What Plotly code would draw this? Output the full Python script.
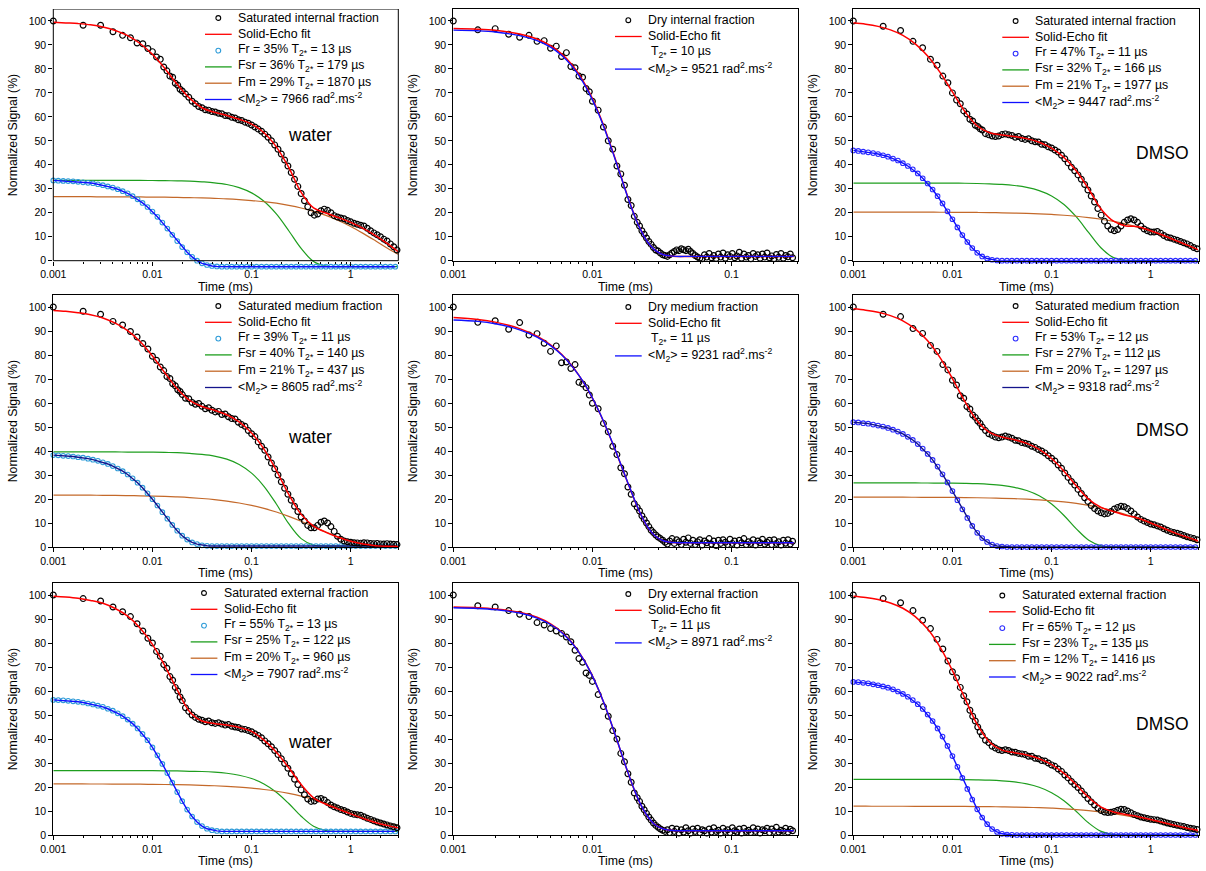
import plotly.graph_objects as go

W, H = 1206, 871

# ---------------- time grids (ms) ----------------
T_FR = [0.001, 0.001122, 0.001259, 0.001413, 0.001585, 0.001778, 0.001995, 0.002239, 0.002512, 0.002818,
        0.003162, 0.003548, 0.003981, 0.004467, 0.005012, 0.005623, 0.00631, 0.007079, 0.007943, 0.008913,
        0.01, 0.01122, 0.01259, 0.01413, 0.01585, 0.01778, 0.01995, 0.02239, 0.02512, 0.02818,
        0.03162, 0.03548, 0.03981, 0.04467, 0.05012, 0.05623, 0.0631, 0.07079, 0.07943, 0.08913,
        0.1, 0.1122, 0.1259, 0.1413, 0.1585, 0.1778, 0.1995, 0.2239, 0.2512, 0.2818,
        0.3162, 0.3548, 0.3981, 0.4467, 0.5012, 0.5623, 0.631, 0.7079, 0.7943, 0.8913,
        1.0, 1.122, 1.259, 1.413, 1.585, 1.778, 1.995, 2.239, 2.512, 2.818]

T_FIT = [0.001, 0.001334, 0.001778, 0.002371, 0.003162, 0.004217, 0.005623, 0.007499, 0.01, 0.01334,
         0.01778, 0.02371, 0.03162, 0.04217, 0.05623, 0.07499, 0.1, 0.1334, 0.1778, 0.2371,
         0.3162, 0.4217, 0.5623, 0.7499, 1.0, 1.334, 1.778, 2.371, 3.0]

T_DATA = [0.001, 0.002, 0.003, 0.004, 0.005, 0.006, 0.007, 0.008, 0.009, 0.01,
          0.011, 0.012, 0.013, 0.014, 0.015, 0.016, 0.017, 0.018, 0.019, 0.02,
          0.02154, 0.02326, 0.02512, 0.02712, 0.02929, 0.03162, 0.03415, 0.03687, 0.03981, 0.04299,
          0.04642, 0.05012, 0.05412, 0.05843, 0.0631, 0.06813, 0.07356, 0.07943, 0.08577, 0.09261,
          0.1, 0.108, 0.1166, 0.1259, 0.1359, 0.1468, 0.1585, 0.1711, 0.1848, 0.1995,
          0.2154, 0.2326, 0.2512, 0.2712, 0.2929, 0.3162, 0.3415, 0.3687, 0.3981, 0.4299,
          0.4642, 0.5012, 0.5412, 0.5843, 0.631, 0.6813, 0.7356, 0.7943, 0.8577, 0.9261,
          1.0, 1.08, 1.166, 1.259, 1.359, 1.468, 1.585, 1.711, 1.848, 1.995,
          2.154, 2.326, 2.512, 2.712, 2.929]

T_FIT_DRY = [0.001, 0.0015, 0.002, 0.003, 0.004, 0.005, 0.006, 0.007, 0.008, 0.009,
             0.01, 0.011, 0.012, 0.013, 0.014, 0.015, 0.016, 0.018, 0.02, 0.022,
             0.025, 0.028, 0.032, 0.036, 0.04, 0.05, 0.07, 0.1, 0.15, 0.2, 0.28]

T_DATA_DRY = [0.001, 0.0015, 0.002, 0.0025, 0.003, 0.0035, 0.004, 0.0045, 0.005, 0.0055,
              0.006, 0.0065, 0.007, 0.0075, 0.008, 0.0085, 0.009, 0.0095, 0.01,
              0.011, 0.012, 0.013, 0.014, 0.015, 0.016, 0.017, 0.018, 0.019, 0.02,
              0.021, 0.02182, 0.02268, 0.02356, 0.02448, 0.02544, 0.02644, 0.02747, 0.02855, 0.02966,
              0.03082, 0.03203, 0.03328, 0.03458, 0.03594, 0.03734, 0.0388, 0.04032, 0.0419, 0.04354,
              0.04524, 0.04701, 0.04885, 0.05076, 0.05275, 0.05481, 0.05696, 0.05919, 0.0615, 0.06391,
              0.06641, 0.06901, 0.07171, 0.07452, 0.07743, 0.08046, 0.08361, 0.08688, 0.09028, 0.09382,
              0.09749, 0.1013, 0.1053, 0.1094, 0.1137, 0.1181, 0.1227, 0.1275, 0.1325, 0.1377,
              0.1431, 0.1487, 0.1545, 0.1605, 0.1668, 0.1733, 0.1801, 0.1872, 0.1945, 0.2021,
              0.21, 0.2182, 0.2268, 0.2356, 0.2448, 0.2544, 0.2644, 0.2747]

# ---------------- Saturated internal, water (A) ----------------
A_DATA = [100, 98.2, 98.2, 95.5, 94.0, 93.0, 90.8, 90.5, 88.5, 87.2, 85.0, 84.0, 80.8, 79.2, 77.0, 76.5, 74.0, 73.2, 71.5, 70.8,
          69.5, 68.2, 66.5, 65.5, 64.3, 63.8, 63.0, 62.8, 62.2, 62.0, 61.5, 61.3, 60.6, 60.5, 59.8, 59.5, 58.8, 58.5, 57.8, 57.3,
          56.6, 55.8, 54.9, 54.0, 52.8, 51.5, 50.0, 48.3, 46.5, 44.5, 42.0, 39.5, 36.8, 34.0, 31.0, 28.0, 25.0, 22.5, 20.0, 19.0,
          19.5, 20.8, 21.5, 21.0, 20.0, 18.8, 18.2, 17.8, 17.5, 16.8, 16.2, 15.6, 15.2, 14.8, 14.5, 13.5, 12.5, 11.6, 10.8, 10.0,
          9.0, 8.2, 7.0, 5.8, 4.5]
A_FIT = [99.5, 99.2, 98.9, 98.4, 97.5, 96.0, 93.9, 90.6, 86.1, 80.2, 73.6, 67.8, 63.8, 61.9, 60.6, 59.0, 57.0, 53.4, 47.5, 38.9,
         28.5, 22.0, 19.9, 18.0, 16.0, 13.5, 10.5, 7.0, 3.8]
A_FR = [33.5, 33.4, 33.3, 33.2, 33.1, 32.9, 32.7, 32.5, 32.3, 31.9, 31.5, 31.0, 30.5, 29.8, 29.0, 28.1, 26.9, 25.6, 24.1, 22.4,
        20.5, 18.3, 15.9, 13.4, 10.8, 8.2, 5.7, 3.5, 1.6, 0.0, -1.1, -1.8, -2.2, -2.4, -2.5, -2.5, -2.5, -2.5, -2.5, -2.5,
        -2.5, -2.5, -2.5, -2.5, -2.5, -2.5, -2.5, -2.5, -2.5, -2.5, -2.5, -2.5, -2.5, -2.5, -2.5, -2.5, -2.5, -2.5, -2.5, -2.5,
        -2.5, -2.5, -2.5, -2.5, -2.5, -2.5, -2.5, -2.5, -2.5, -2.5]
A_FSR = [33.5, 33.5, 33.5, 33.5, 33.5, 33.5, 33.5, 33.5, 33.45, 33.4, 33.3, 33.2, 32.9, 32.5, 31.8, 30.5, 28.3, 24.8, 19.5, 12.5,
         5.1, -0.3, -2.2, -2.5, -2.5, -2.5, -2.5, -2.5, -2.5]
A_FM = [26.7, 26.7, 26.7, 26.7, 26.6, 26.6, 26.6, 26.6, 26.5, 26.5, 26.4, 26.3, 26.2, 26.0, 25.8, 25.5, 25.1, 24.6, 24.0, 23.1,
        22.0, 20.6, 18.9, 16.8, 14.3, 11.4, 8.3, 5.1, 2.7]

# ---------------- Saturated medium, water (B) ----------------
B_DATA = [100, 98.2, 97.0, 94.0, 92.5, 89.8, 87.5, 84.8, 82.5, 79.5, 77.8, 75.0, 73.5, 71.0, 70.2, 68.0, 67.2, 65.5, 64.8, 63.5,
          62.0, 61.8, 60.2, 59.5, 59.8, 58.6, 57.6, 58.0, 57.0, 56.3, 56.5, 55.2, 55.4, 54.3, 53.5, 53.3, 52.0, 51.0, 50.3, 48.5,
          47.2, 46.0, 43.8, 42.0, 40.3, 37.5, 35.0, 32.6, 30.0, 27.2, 24.5, 22.0, 19.5, 17.0, 14.8, 12.5, 10.8, 9.0, 8.0, 8.0,
          9.0, 10.3, 10.8, 10.0, 8.5, 6.5, 4.5, 3.2, 2.5, 2.2, 2.0, 1.8, 1.7, 1.6, 1.8, 1.7, 1.5, 1.4, 1.5, 1.3,
          1.2, 1.4, 1.2, 1.1, 1.0]
B_FIT = [98.55, 98.19, 97.61, 96.78, 95.45, 93.25, 90.18, 85.64, 79.62, 72.63, 65.93, 61.12, 58.52, 57.0, 55.09, 52.1, 47.51,
         40.79, 31.88, 21.92, 13.59, 8.74, 6.09, 4.03, 2.36, 1.21, 0.56, 0.29, 0.22]
B_FR = [38.3, 38.2, 38.0, 37.9, 37.7, 37.4, 37.2, 36.8, 36.4, 35.9, 35.3, 34.6, 33.7, 32.7, 31.6, 30.2, 28.6, 26.8, 24.7, 22.4,
        19.9, 17.3, 14.5, 11.8, 9.2, 6.8, 4.7, 3.1, 1.9, 1.2, 0.7, 0.5, 0.4, 0.4, 0.4, 0.4, 0.4, 0.4, 0.4, 0.4,
        0.4, 0.4, 0.4, 0.4, 0.4, 0.4, 0.4, 0.4, 0.4, 0.4, 0.4, 0.4, 0.4, 0.4, 0.4, 0.4, 0.4, 0.4, 0.4, 0.4,
        0.4, 0.4, 0.4, 0.4, 0.4, 0.4, 0.4, 0.4, 0.4, 0.4]
B_FSR = [39.6, 39.6, 39.6, 39.6, 39.6, 39.6, 39.55, 39.55, 39.5, 39.4, 39.3, 39.0, 38.6, 37.9, 36.6, 34.4, 30.8, 25.3, 17.9, 9.7,
         3.5, 0.8, 0.4, 0.4, 0.4, 0.4, 0.4, 0.4, 0.4]
B_FM = [21.65, 21.64, 21.61, 21.58, 21.55, 21.5, 21.43, 21.34, 21.22, 21.06, 20.85, 20.58, 20.21, 19.74, 19.13, 18.34, 17.34,
        16.1, 14.58, 12.78, 10.73, 8.52, 6.28, 4.23, 2.56, 1.41, 0.76, 0.49, 0.42]

# ---------------- Saturated external, water (C) ----------------
C_DATA = [100, 98.5, 97.5, 95.0, 93.0, 91.0, 88.0, 85.0, 82.0, 80.0, 76.5, 74.5, 71.0, 69.5, 66.0, 64.5, 61.5, 60.0, 57.5, 56.0,
          53.0, 51.5, 50.0, 49.0, 48.2, 47.8, 47.2, 47.5, 46.8, 46.5, 46.8, 46.2, 45.8, 46.0, 45.3, 45.0, 44.8, 44.2, 44.0, 43.5,
          43.0, 42.2, 41.5, 40.5, 39.2, 38.0, 36.8, 35.2, 33.5, 31.8, 29.8, 27.8, 25.5, 23.2, 21.0, 18.8, 16.8, 15.0, 14.0, 14.2,
          15.0, 15.2, 14.6, 13.5, 12.5, 11.8, 11.2, 10.6, 10.2, 9.6, 9.0, 8.6, 8.4, 8.2, 7.6, 7.0, 6.5, 5.9, 5.4, 5.0,
          4.6, 4.2, 3.8, 3.4, 3.0]
C_FIT = [99.48, 99.17, 98.66, 97.75, 96.53, 94.36, 91.18, 86.25, 79.41, 70.48, 60.47, 51.4, 47.5, 46.5, 45.8, 44.8, 43.2,
         39.5, 34.5, 28.0, 21.0, 15.5, 12.8, 10.8, 8.8, 6.9, 5.2, 3.9, 3.0]
C_FR = [56.3, 56.2, 56.1, 55.9, 55.7, 55.5, 55.2, 54.8, 54.4, 53.9, 53.4, 52.6, 51.8, 50.7, 49.5, 48.1, 46.4, 44.4, 42.1, 39.5,
        36.5, 33.2, 29.6, 25.8, 21.8, 17.9, 14.1, 10.6, 7.7, 5.4, 3.7, 2.6, 2.0, 1.7, 1.5, 1.5, 1.5, 1.5, 1.5, 1.5,
        1.5, 1.5, 1.5, 1.5, 1.5, 1.5, 1.5, 1.5, 1.5, 1.5, 1.5, 1.5, 1.5, 1.5, 1.5, 1.5, 1.5, 1.5, 1.5, 1.5,
        1.5, 1.5, 1.5, 1.5, 1.5, 1.5, 1.5, 1.5, 1.5, 1.5]
C_FSR = [26.8, 26.8, 26.8, 26.8, 26.8, 26.8, 26.8, 26.8, 26.8, 26.75, 26.7, 26.55, 26.45, 26.19, 25.72, 24.9, 23.53, 21.27,
         17.83, 13.11, 7.83, 3.66, 1.82, 1.51, 1.5, 1.5, 1.5, 1.5, 1.5]
C_FM = [21.28, 21.28, 21.27, 21.26, 21.24, 21.22, 21.19, 21.16, 21.11, 21.05, 20.97, 20.86, 20.71, 20.52, 20.27, 19.94, 19.51,
        18.95, 18.24, 17.34, 16.22, 14.87, 13.28, 11.49, 9.59, 7.71, 6.04, 4.73, 4.0]

# ---------------- Dry fractions (D, E, F) ----------------
D_DATA = [100, 96.3, 96.8, 94.5, 93.2, 94.0, 91.5, 91.8, 88.6, 89.5, 85.2, 86.8, 81.0, 80.5, 77.0, 76.5, 71.8, 70.5, 66.5,
          62.8, 55.8, 50.0, 46.5, 39.5, 36.2, 31.5, 25.5, 23.0, 18.5,
          16.0, 14.5, 12.5, 11.0, 9.5, 8.0, 6.8, 5.5, 4.5, 4.0, 3.2, 2.5, 2.2, 1.8, 2.5, 3.2, 3.8, 4.5, 4.2, 5.0,
          4.6, 4.2, 4.8, 3.8, 3.0, 2.2, 1.5, 1.0, 0.8, 2.5, 1.5, 3.0, 1.2, 2.2, 0.9, 2.8, 1.5, 3.2, 1.0, 2.5,
          1.8, 3.0, 1.2, 2.0, 3.5, 1.0, 2.8, 1.5, 2.2, 0.8, 3.0, 1.8, 2.5, 1.0, 2.8, 1.5, 3.2, 1.2, 2.0, 0.8,
          2.6, 1.4, 3.0, 1.0, 2.2, 1.6, 2.8, 1.2]
D_FIT = [96.9, 96.6, 96.1, 94.6, 92.5, 89.7, 86.3, 82.3, 77.8, 72.8, 67.6, 62.1, 56.6, 51.0, 45.6, 40.4, 35.4, 26.5, 19.1, 13.5,
         7.7, 4.5, 2.6, 2.0, 1.8, 1.8, 1.8, 1.8, 1.8, 1.8, 1.8]
D_M2 = [96.2, 95.9, 95.4, 93.9, 91.8, 89.1, 85.7, 81.7, 77.2, 72.3, 67.1, 61.7, 56.2, 50.7, 45.3, 40.1, 35.2, 26.3, 19.0, 13.4,
        7.7, 4.5, 2.6, 2.0, 1.8, 1.8, 1.8, 1.8, 1.8, 1.8, 1.8]

E_DATA = [100, 93.6, 94.3, 90.7, 93.5, 88.3, 88.9, 84.9, 81.5, 83.8, 76.8, 77.1, 74.4, 76.0, 68.6, 67.9, 66.4, 63.3, 59.9,
          57.6, 51.5, 48.0, 42.0, 38.5, 33.0, 30.5, 25.0, 22.0, 18.0,
          16.5, 15.0, 13.0, 11.5, 10.0, 8.5, 7.0, 6.0, 5.0, 4.2, 3.5, 2.8, 2.0, 1.2, 2.5, 3.5, 1.5, 3.0, 2.2, 1.0,
          3.2, 2.0, 3.8, 1.5, 2.8, 1.0, 2.2, 3.0, 0.8, 2.5, 1.8, 3.5, 1.2, 2.5, 0.6, 2.8, 1.5, 3.0, 2.0, 1.0,
          3.2, 1.5, 2.5, 0.8, 2.8, 1.8, 3.5, 1.0, 2.2, 1.5, 3.0, 0.8, 2.5, 1.8, 3.2, 1.2, 2.0, 2.8, 1.0, 3.0,
          1.5, 2.2, 0.8, 2.8, 1.6, 3.0, 1.2, 2.4]
E_FIT = [95.6, 94.8, 93.7, 91.0, 87.8, 84.2, 80.3, 76.0, 71.5, 66.8, 62.0, 57.2, 52.4, 47.6, 43.0, 38.6, 34.4, 26.6, 19.8, 14.2,
         8.2, 4.8, 2.7, 2.0, 1.8, 1.8, 1.8, 1.8, 1.8, 1.8, 1.8]
E_M2 = [94.6, 94.0, 93.0, 90.5, 87.4, 83.9, 80.1, 75.9, 71.5, 66.9, 62.1, 57.3, 52.5, 47.7, 43.1, 38.7, 34.5, 26.7, 19.9, 14.3,
        8.3, 4.8, 2.7, 2.0, 1.8, 1.8, 1.8, 1.8, 1.8, 1.8, 1.8]

F_DATA = [100, 95.5, 95.0, 93.5, 92.0, 91.0, 88.5, 87.5, 86.0, 85.0, 84.0, 82.5, 80.5, 77.0, 73.5, 72.0, 67.5, 66.5, 64.0,
          58.5, 53.5, 49.5, 43.5, 40.0, 34.0, 30.5, 25.5, 22.0, 17.5,
          15.5, 14.0, 12.0, 10.5, 9.0, 7.5, 6.2, 5.0, 4.0, 3.2, 2.5, 2.0, 1.5, 2.2, 1.0, 2.8, 1.5, 2.5, 0.8, 2.2,
          1.2, 3.0, 1.8, 0.8, 2.5, 1.5, 2.8, 1.0, 2.2, 1.8, 0.8, 2.5, 1.2, 3.0, 1.5, 2.0, 0.8, 2.8, 1.5, 2.2,
          1.0, 3.0, 1.8, 1.2, 2.5, 0.8, 2.8, 1.5, 2.0, 1.0, 3.0, 1.5, 2.5, 0.8, 2.2, 1.8, 2.8, 1.0, 2.5, 1.5,
          3.2, 1.2, 2.0, 1.6, 2.8, 1.2, 2.4, 1.8]
F_FIT = [95.0, 94.7, 94.2, 92.8, 90.7, 88.0, 84.6, 80.7, 76.2, 71.4, 66.3, 60.9, 55.5, 50.1, 44.7, 39.6, 34.7, 26.0, 18.8, 13.2,
         7.6, 4.4, 2.6, 2.0, 1.8, 1.8, 1.8, 1.8, 1.8, 1.8, 1.8]
F_M2 = [94.7, 94.4, 93.9, 92.5, 90.4, 87.7, 84.4, 80.5, 76.1, 71.3, 66.2, 60.9, 55.5, 50.1, 44.8, 39.7, 34.8, 26.1, 18.9, 13.3,
        7.7, 4.4, 2.6, 2.0, 1.8, 1.8, 1.8, 1.8, 1.8, 1.8, 1.8]

# ---------------- Saturated internal, DMSO (G) ----------------
G_DATA = [100, 97.8, 96.0, 91.5, 88.8, 84.0, 81.5, 77.0, 74.2, 70.0, 67.0, 65.5, 62.5, 61.2, 59.0, 58.3, 56.5, 56.0, 55.0, 54.5,
          53.0, 52.5, 52.0, 51.8, 52.0, 52.6, 52.9, 52.5, 52.2, 51.5, 51.8, 51.0, 50.6, 50.9, 50.0, 49.6, 49.5, 48.6, 48.4, 47.5,
          47.0, 46.2, 45.3, 44.0, 42.5, 40.8, 39.0, 37.5, 35.8, 34.0, 31.8, 29.5, 27.0, 24.5, 21.8, 19.0, 16.5, 14.5, 13.0, 12.5,
          13.0, 14.5, 16.0, 17.0, 17.5, 17.0, 16.0, 14.5, 13.2, 12.5, 12.0, 12.0, 12.2, 11.5, 10.5, 9.8, 9.5, 9.0, 8.5, 8.0,
          7.5, 7.0, 6.3, 5.5, 5.0]
G_FIT = [99.26, 98.68, 97.76, 96.28, 93.99, 90.46, 85.43, 78.58, 70.39, 62.26, 56.21, 53.38, 52.44, 51.84, 50.92, 49.4, 46.93,
         43.04, 37.4, 29.8, 21.5, 16.5, 14.5, 14.2, 12.5, 10.6, 8.5, 6.4, 4.6]
G_FR = [46.0, 45.8, 45.5, 45.2, 44.9, 44.5, 44.0, 43.4, 42.6, 41.8, 40.7, 39.5, 38.1, 36.4, 34.4, 32.2, 29.7, 26.9, 23.9, 20.6,
        17.3, 13.9, 10.7, 7.8, 5.3, 3.3, 1.8, 0.9, 0.4, 0.1, 0.0, 0.0, 0.0, 0.0, 0.0, 0.0, 0.0, 0.0, 0.0, 0.0,
        0.0, 0.0, 0.0, 0.0, 0.0, 0.0, 0.0, 0.0, 0.0, 0.0, 0.0, 0.0, 0.0, 0.0, 0.0, 0.0, 0.0, 0.0, 0.0, 0.0,
        0.0, 0.0, 0.0, 0.0, 0.0, 0.0, 0.0, 0.0, 0.0, 0.0]
G_FSR = [32.4, 32.4, 32.4, 32.4, 32.4, 32.4, 32.4, 32.38, 32.34, 32.3, 32.21, 32.07, 31.82, 31.37, 30.59, 29.26, 27.03, 23.47,
         18.25, 11.68, 5.28, 1.28, 0.1, 0.0, 0.0, 0.0, 0.0, 0.0, 0.0]
G_FM = [20.29, 20.29, 20.28, 20.28, 20.27, 20.26, 20.24, 20.22, 20.20, 20.16, 20.12, 20.06, 19.98, 19.87, 19.73, 19.54, 19.30,
        18.97, 18.55, 18.01, 17.30, 16.40, 15.28, 13.89, 12.24, 10.34, 8.26, 6.12, 4.45]

# ---------------- Saturated medium, DMSO (H) ----------------
H_DATA = [100, 97.0, 96.0, 91.0, 89.0, 84.0, 81.5, 76.0, 73.8, 69.5, 67.5, 63.0, 62.0, 58.5, 57.5, 55.0, 54.0, 52.5, 51.5, 50.0,
          48.5, 47.2, 46.5, 45.8, 45.5, 45.8, 46.2, 45.8, 45.3, 44.5, 44.3, 43.5, 43.2, 42.8, 42.0, 41.5, 40.6, 40.0, 39.2, 38.0,
          37.0, 35.8, 34.2, 32.8, 30.8, 29.0, 27.3, 25.8, 24.0, 22.3, 20.5, 19.0, 17.3, 16.0, 15.0, 14.3, 13.8, 14.0, 14.8, 15.8,
          16.5, 17.0, 16.8, 16.0, 15.0, 13.8, 12.5, 11.5, 10.8, 10.2, 9.6, 9.3, 8.8, 8.3, 7.6, 7.0, 6.4, 6.0, 5.7, 5.3,
          4.8, 4.3, 3.9, 3.5, 3.0]
H_FIT = [99.22, 98.67, 97.81, 96.41, 94.25, 90.85, 85.91, 78.91, 70.18, 60.67, 52.52, 47.78, 45.81, 44.71, 43.16, 40.67, 36.89,
         31.61, 25.41, 19.86, 16.5, 14.75, 13.18, 12.0, 10.0, 7.9, 5.8, 4.0, 2.6]
H_FR = [52.0, 51.9, 51.6, 51.4, 51.0, 50.6, 50.2, 49.6, 48.9, 48.1, 47.1, 45.9, 44.6, 42.9, 41.0, 38.8, 36.3, 33.5, 30.3, 26.9,
        23.3, 19.5, 15.7, 12.1, 8.8, 5.9, 3.7, 2.1, 1.0, 0.4, 0.2, 0.0, 0.0, 0.0, 0.0, 0.0, 0.0, 0.0, 0.0, 0.0,
        0.0, 0.0, 0.0, 0.0, 0.0, 0.0, 0.0, 0.0, 0.0, 0.0, 0.0, 0.0, 0.0, 0.0, 0.0, 0.0, 0.0, 0.0, 0.0, 0.0,
        0.0, 0.0, 0.0, 0.0, 0.0, 0.0, 0.0, 0.0, 0.0, 0.0]
H_FSR = [26.7, 26.7, 26.7, 26.7, 26.7, 26.68, 26.66, 26.63, 26.59, 26.51, 26.37, 26.11, 25.66, 24.87, 23.54, 21.34, 17.93,
         13.14, 7.57, 2.84, 0.5, 0.02, 0.0, 0.0, 0.0, 0.0, 0.0, 0.0, 0.0]
H_FM = [20.78, 20.77, 20.77, 20.76, 20.75, 20.73, 20.71, 20.68, 20.64, 20.59, 20.52, 20.42, 20.29, 20.13, 19.92, 19.63, 19.26,
        18.77, 18.14, 17.32, 16.3, 15.03, 13.48, 11.67, 9.62, 7.44, 5.28, 3.34, 2.06]

# ---------------- Saturated external, DMSO (I) ----------------
I_DATA = [100, 98.5, 96.8, 93.5, 89.5, 86.0, 81.5, 77.5, 72.5, 68.0, 65.5, 61.5, 58.0, 55.5, 52.0, 49.5, 47.5, 45.0, 43.0, 41.5,
          39.5, 38.5, 37.0, 36.2, 35.5, 35.2, 35.5, 35.2, 34.6, 34.5, 34.0, 33.8, 33.5, 32.8, 32.8, 32.0, 31.8, 31.0, 30.8, 30.0,
          29.2, 28.6, 27.5, 26.5, 25.0, 23.8, 22.3, 21.0, 19.8, 18.3, 16.8, 15.2, 13.8, 12.5, 11.2, 10.2, 9.6, 9.4, 9.5, 9.8,
          10.3, 10.7, 10.6, 10.0, 9.3, 8.5, 8.0, 7.5, 7.2, 6.9, 6.6, 6.4, 6.2, 5.8, 5.4, 5.0, 4.7, 4.4, 4.1, 3.8,
          3.5, 3.1, 2.8, 2.6, 2.3]
I_FIT = [99.52, 98.98, 98.1, 96.69, 94.48, 90.99, 85.83, 78.31, 68.47, 56.97, 46.06, 38.68, 35.34, 34.28, 33.3, 31.76, 29.31,
         25.7, 20.85, 15.62, 11.59, 9.59, 8.57, 7.57, 6.42, 5.18, 3.92, 2.75, 1.94]
I_FR = [63.8, 63.7, 63.4, 63.2, 62.8, 62.4, 61.9, 61.4, 60.7, 59.8, 58.8, 57.6, 56.2, 54.5, 52.5, 50.2, 47.5, 44.4, 41.0, 37.1,
        32.9, 28.4, 23.8, 19.2, 14.8, 10.7, 7.3, 4.5, 2.5, 1.3, 0.5, 0.2, 0.1, 0.0, 0.0, 0.0, 0.0, 0.0, 0.0, 0.0,
        0.0, 0.0, 0.0, 0.0, 0.0, 0.0, 0.0, 0.0, 0.0, 0.0, 0.0, 0.0, 0.0, 0.0, 0.0, 0.0, 0.0, 0.0, 0.0, 0.0,
        0.0, 0.0, 0.0, 0.0, 0.0, 0.0, 0.0, 0.0, 0.0, 0.0]
I_FSR = [23.2, 23.2, 23.2, 23.2, 23.2, 23.2, 23.2, 23.17, 23.14, 23.09, 23.0, 22.85, 22.57, 22.1, 21.27, 19.88, 17.63, 14.28,
         9.77, 4.97, 1.49, 0.18, 0.0, 0.0, 0.0, 0.0, 0.0, 0.0, 0.0]
I_FM = [11.99, 11.99, 11.98, 11.98, 11.97, 11.96, 11.95, 11.94, 11.92, 11.89, 11.85, 11.8, 11.73, 11.65, 11.53, 11.38, 11.18,
        10.92, 10.58, 10.15, 9.6, 8.91, 8.07, 7.07, 5.92, 4.68, 3.42, 2.25, 1.44]

# ---------------- texts ----------------
T2 = "T<sub>2*</sub>"
M2 = "&lt;M<sub>2</sub>&gt;"
RAD = " rad<sup>2</sup>.ms<sup>-2</sup>"

# ---------------- styles ----------------
RED, GREEN, ORANGE, BLUE, NAVY = "#ff0000", "#1e9e1e", "#c4692a", "#1010ff", "#14148c"
CYAN, BLUE_MK = "#2d9bd8", "#2a2aff"
FONT = "Arial, Liberation Sans, sans-serif"

COL_X = [(53.3, 398.3), (453.3, 798.3), (853.3, 1199.0)]
ROW_Y = [(9.0, 260.7), (295.0, 547.0), (583.0, 835.0)]
XR = [[-3, 0.48], [-3, -0.52], [-3, 0.487]]
MINOR = [m * d for d in (0.001, 0.01, 0.1, 1.0) for m in range(2, 10)]

PANELS = [
    dict(r=0, c=0, kind="sat", data=A_DATA, fit=A_FIT, fr=A_FR, fsr=A_FSR, fm=A_FM, frc=CYAN, m2c=BLUE, ymin=-3.5,
         label="Saturated internal fraction",
         texts=["Fr = 35% " + T2 + " = 13 µs", "Fsr = 36% " + T2 + " = 179 µs", "Fm = 29% " + T2 + " = 1870 µs",
                M2 + " = 7966" + RAD],
         leg=(236, 17.5), solvent=("water", 310, 135)),
    dict(r=1, c=0, kind="sat", data=B_DATA, fit=B_FIT, fr=B_FR, fsr=B_FSR, fm=B_FM, frc=CYAN, m2c=NAVY,
         label="Saturated medium fraction",
         texts=["Fr = 39% " + T2 + " = 11 µs", "Fsr = 40% " + T2 + " = 140 µs", "Fm = 21% " + T2 + " = 437 µs",
                M2 + " = 8605" + RAD],
         leg=(236, 305.5), solvent=("water", 310, 437)),
    dict(r=2, c=0, kind="sat", data=C_DATA, fit=C_FIT, fr=C_FR, fsr=C_FSR, fm=C_FM, frc=CYAN, m2c=BLUE,
         label="Saturated external fraction",
         texts=["Fr = 55% " + T2 + " = 13 µs", "Fsr = 25% " + T2 + " = 122 µs", "Fm = 20% " + T2 + " = 960 µs",
                M2 + " = 7907" + RAD],
         leg=(221.7, 592.5), solvent=("water", 310, 742)),
    dict(r=0, c=1, kind="dry", data=D_DATA, fit=D_FIT, m2=D_M2, label="Dry internal fraction",
         texts=[T2 + " = 10 µs", M2 + " = 9521" + RAD], leg=(646, 19.7)),
    dict(r=1, c=1, kind="dry", data=E_DATA, fit=E_FIT, m2=E_M2, label="Dry medium fraction",
         texts=[T2 + " = 11 µs", M2 + " = 9231" + RAD], leg=(646, 306.5)),
    dict(r=2, c=1, kind="dry", data=F_DATA, fit=F_FIT, m2=F_M2, label="Dry external fraction",
         texts=[T2 + " = 11 µs", M2 + " = 8971" + RAD], leg=(646, 593.5)),
    dict(r=0, c=2, kind="sat", data=G_DATA, fit=G_FIT, fr=G_FR, fsr=G_FSR, fm=G_FM, frc=BLUE_MK, m2c=BLUE,
         label="Saturated internal fraction",
         texts=["Fr = 47% " + T2 + " = 11 µs", "Fsr = 32% " + T2 + " = 166 µs", "Fm = 21% " + T2 + " = 1977 µs",
                M2 + " = 9447" + RAD],
         leg=(1033.3, 20.5), solvent=("DMSO", 1162, 153)),
    dict(r=1, c=2, kind="sat", data=H_DATA, fit=H_FIT, fr=H_FR, fsr=H_FSR, fm=H_FM, frc=BLUE_MK, m2c=NAVY,
         label="Saturated medium fraction",
         texts=["Fr = 53% " + T2 + " = 12 µs", "Fsr = 27% " + T2 + " = 112 µs", "Fm = 20% " + T2 + " = 1297 µs",
                M2 + " = 9318" + RAD],
         leg=(1033.3, 305.5), solvent=("DMSO", 1162, 430)),
    dict(r=2, c=2, kind="sat", data=I_DATA, fit=I_FIT, fr=I_FR, fsr=I_FSR, fm=I_FM, frc=BLUE_MK, m2c=BLUE,
         label="Saturated external fraction",
         texts=["Fr = 65% " + T2 + " = 12 µs", "Fsr = 23% " + T2 + " = 135 µs", "Fm = 12% " + T2 + " = 1416 µs",
                M2 + " = 9022" + RAD],
         leg=(1020, 595), solvent=("DMSO", 1162, 724)),
]


def px(xp):
    return xp / W


def py(yp):
    return 1 - yp / H


fig = go.Figure()
annotations = []
shapes = []
DY = 16.3
LEG_FONT = dict(family=FONT, size=12.3, color="black")


def mk(color, size, lw=1.1):
    return dict(symbol="circle-open", size=size, color=color, line=dict(width=lw, color=color))


for p in PANELS:
    idx = p["r"] * 3 + p["c"] + 1
    xs = "x" if idx == 1 else f"x{idx}"
    ys = "y" if idx == 1 else f"y{idx}"
    common = dict(xaxis=xs, yaxis=ys, showlegend=False, hoverinfo="skip")
    if p["kind"] == "sat":
        fig.add_trace(go.Scatter(x=T_FIT, y=p["fsr"], mode="lines", line=dict(color=GREEN, width=1.2, shape="spline"), **common))
        fig.add_trace(go.Scatter(x=T_FIT, y=p["fm"], mode="lines", line=dict(color=ORANGE, width=1.2, shape="spline"), **common))
        fig.add_trace(go.Scatter(x=T_FR, y=p["fr"], mode="markers", marker=mk(p["frc"], 4.6), cliponaxis=False, **common))
        fig.add_trace(go.Scatter(x=T_FR, y=p["fr"], mode="lines", line=dict(color=p["m2c"], width=1.4), **common))
        fig.add_trace(go.Scatter(x=T_DATA, y=p["data"], mode="markers", marker=mk("black", 5.8, 1.2), cliponaxis=False, **common))
        fig.add_trace(go.Scatter(x=T_FIT, y=p["fit"], mode="lines", line=dict(color=RED, width=1.5, shape="spline"), **common))
    else:
        fig.add_trace(go.Scatter(x=T_DATA_DRY, y=p["data"], mode="markers", marker=mk("black", 5.8, 1.2), cliponaxis=False, **common))
        fig.add_trace(go.Scatter(x=T_FIT_DRY, y=p["fit"], mode="lines", line=dict(color=RED, width=1.5, shape="spline"), **common))
        fig.add_trace(go.Scatter(x=T_FIT_DRY, y=p["m2"], mode="lines", line=dict(color=BLUE, width=1.4, shape="spline"), **common))

    x0p, x1p = COL_X[p["c"]]
    y0p, y1p = ROW_Y[p["r"]]
    ymin = p.get("ymin", 0)
    scale = (y1p - y0p) / 105.0
    ybot = y1p - ymin * scale          # pixel of the bottom of the y range
    axfont = dict(family=FONT, size=10.5, color="black")
    framed = ymin < 0
    xax = dict(
        type="log", range=XR[p["c"]], domain=[px(x0p), px(x1p)],
        tickvals=[0.001, 0.01, 0.1, 1], ticktext=["0.001", "0.01", "0.1", "1"],
        ticks="outside", ticklen=4, tickwidth=1, tickcolor="black",
        minor=dict(tickvals=MINOR, ticks="outside", ticklen=2, tickwidth=1, tickcolor="black", showgrid=False),
        showline=not framed, linecolor="black", linewidth=1, mirror=True, showgrid=False, zeroline=False,
        tickfont=axfont, automargin=False)
    if framed:
        xax.update(anchor="free", position=py(y1p))
    else:
        xax.update(anchor=ys)
    yax = dict(
        range=[ymin, 105], domain=[py(ybot), py(y0p)], anchor=xs,
        tickvals=list(range(0, 101, 10)),
        ticks="outside", ticklen=4, tickwidth=1, tickcolor="black",
        showline=not framed, linecolor="black", linewidth=1, mirror=True, showgrid=False, zeroline=False,
        tickfont=axfont, automargin=False)
    fig.update_layout(**{("xaxis" if idx == 1 else f"xaxis{idx}"): xax,
                         ("yaxis" if idx == 1 else f"yaxis{idx}"): yax})
    if framed:
        shapes.append(dict(type="rect", xref=f"{xs} domain", yref=ys, x0=0, x1=1, y0=0, y1=105,
                           line=dict(color="black", width=1), fillcolor="rgba(0,0,0,0)", layer="above"))

    # axis titles
    annotations.append(dict(x=px(x0p - 40), y=py((y0p + y1p) / 2), xref="paper", yref="paper",
                            text="Normalized Signal (%)", textangle=-90, showarrow=False,
                            font=dict(family=FONT, size=12.3, color="black"), xanchor="center", yanchor="middle"))
    annotations.append(dict(x=px((x0p + x1p) / 2), y=py(y1p + 26), xref="paper", yref="paper",
                            text="Time (ms)", showarrow=False,
                            font=dict(family=FONT, size=12.3, color="black"), xanchor="center", yanchor="middle"))

    # legend (manual)
    tx, ty = p["leg"]
    if p["kind"] == "sat":
        entries = [("circle", "black", p["label"]), ("line", RED, "Solid-Echo fit"),
                   ("circle", p["frc"], p["texts"][0]), ("line", GREEN, p["texts"][1]),
                   ("line", ORANGE, p["texts"][2]), ("line", p["m2c"], p["texts"][3])]
    else:
        entries = [("circle", "black", p["label"]), ("line", RED, "Solid-Echo fit"),
                   ("none", None, p["texts"][0]), ("line", BLUE, p["texts"][1])]
    for k, (sym, col, txt) in enumerate(entries):
        yy = ty + k * DY
        xoff = 3 if sym == "none" else 0
        annotations.append(dict(x=px(tx + xoff), y=py(yy), xref="paper", yref="paper", text=txt,
                                showarrow=False, xanchor="left", yanchor="middle", font=LEG_FONT))
        if sym == "line":
            shapes.append(dict(type="line", xref="paper", yref="paper", x0=px(tx - 31), x1=px(tx - 4.3),
                               y0=py(yy + 0.5), y1=py(yy + 0.5), line=dict(color=col, width=1.3)))
        elif sym == "circle":
            cx, cy, r = tx - 17.7, yy + 0.5, 2.4
            shapes.append(dict(type="circle", xref="paper", yref="paper", x0=px(cx - r), x1=px(cx + r),
                               y0=py(cy + r), y1=py(cy - r), line=dict(color=col, width=1.1)))

    if "solvent" in p:
        s, sx, sy = p["solvent"]
        annotations.append(dict(x=px(sx), y=py(sy), xref="paper", yref="paper", text=s, showarrow=False,
                                xanchor="center", yanchor="middle", font=dict(family=FONT, size=17.5, color="black")))

fig.update_layout(width=W, height=H, autosize=False, margin=dict(l=0, r=0, t=0, b=0, pad=0),
                  paper_bgcolor="white", plot_bgcolor="white", showlegend=False,
                  annotations=annotations, shapes=shapes, font=dict(family=FONT))

fig.write_html("out.html", config={"displayModeBar": False, "staticPlot": True},
               post_script="document.body.style.margin='0';document.body.style.overflow='hidden';")
